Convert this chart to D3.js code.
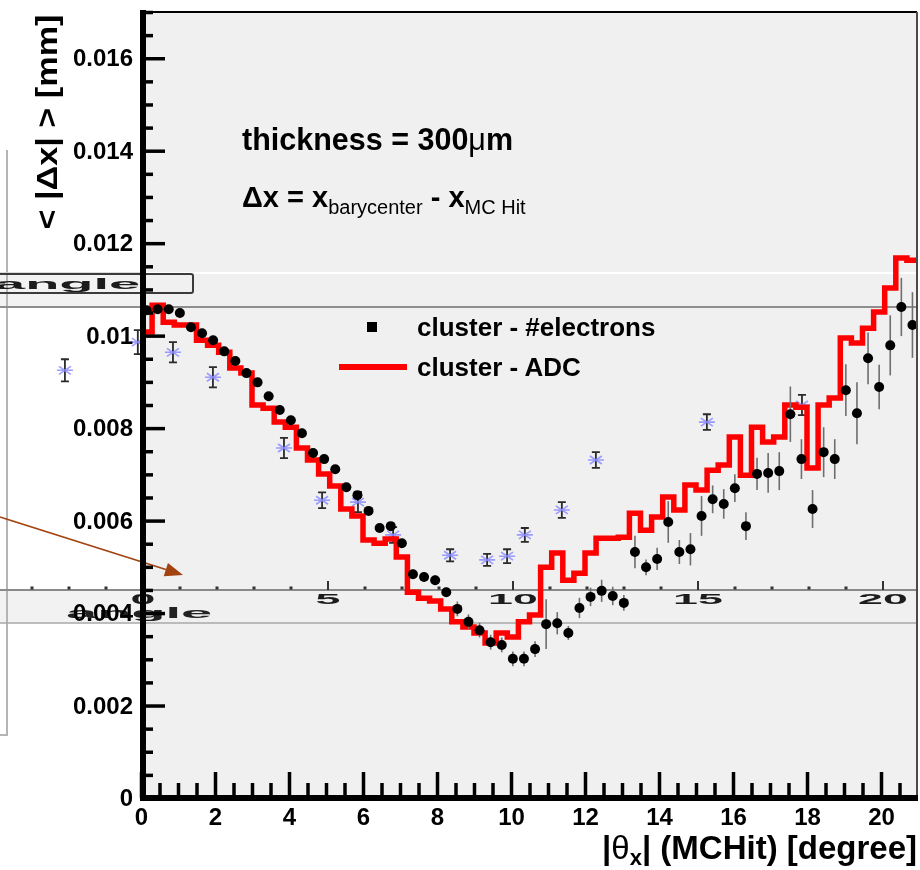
<!DOCTYPE html>
<html>
<head>
<meta charset="utf-8">
<script src="https://cdn.jsdelivr.net/npm/d3@7"></script>
<style>
  body { margin: 0; background: #fff; }
  svg { display: block; font-family: "Liberation Sans", Arial, Helvetica, sans-serif; }
</style>
</head>
<body>
<svg id="chart" width="920" height="870"></svg>
<script>
// ---- data -------------------------------------------------------------
// angular bins of 0.3 degree from 0 to 21 degree
const binWidth = 0.3;

// mean |dx| per bin, cluster position from the number of electrons (points)
const electronsMean = [
  0.01055, 0.01057, 0.01057, 0.01049, 0.01018, 0.01005, 0.00990, 0.00966, 0.00945, 0.00919,
  0.00899, 0.00869, 0.00839, 0.00817, 0.00789, 0.00746, 0.00733, 0.00711, 0.00672, 0.00655,
  0.00621, 0.00584, 0.00588, 0.00551, 0.00484, 0.00478, 0.00471, 0.00445, 0.00409, 0.00381,
  0.00363, 0.00337, 0.00331, 0.00301, 0.00301, 0.00322, 0.00376, 0.00378, 0.00357, 0.00411,
  0.00435, 0.00448, 0.00437, 0.00422, 0.00532, 0.00499, 0.00517, 0.00597, 0.00532, 0.00538,
  0.00610, 0.00646, 0.00636, 0.00670, 0.00588, 0.00701, 0.00703, 0.00707, 0.00830, 0.00733,
  0.00625, 0.00748, 0.00733, 0.00882, 0.00832, 0.00951, 0.00889, 0.00979, 0.01062, 0.01023
];
const electronsErr = [
  0.00003, 0.00003, 0.00003, 0.00003, 0.00003, 0.00003, 0.00003, 0.00003, 0.00003, 0.00003,
  0.00005, 0.00005, 0.00005, 0.00005, 0.00005, 0.00005, 0.00005, 0.00005, 0.00005, 0.00005,
  0.00005, 0.00005, 0.00005, 0.00005, 0.00010, 0.00010, 0.00010, 0.00010, 0.00016, 0.00016,
  0.00016, 0.00016, 0.00016, 0.00016, 0.00016, 0.00017, 0.00054, 0.00024, 0.00015, 0.00022,
  0.00020, 0.00024, 0.00020, 0.00017, 0.00035, 0.00017, 0.00024, 0.00045, 0.00026, 0.00035,
  0.00043, 0.00030, 0.00032, 0.00030, 0.00030, 0.00035, 0.00043, 0.00041, 0.00060, 0.00043,
  0.00041, 0.00054, 0.00043, 0.00056, 0.00067, 0.00056, 0.00048, 0.00065, 0.00063, 0.00071
];

// mean |dx| per bin, cluster position from the ADC signal (red histogram)
const adcMean = [
  0.01008, 0.01066, 0.01029, 0.01023, 0.01023, 0.00990, 0.00979, 0.00964, 0.00930, 0.00919,
  0.00850, 0.00843, 0.00813, 0.00802, 0.00757, 0.00731, 0.00701, 0.00675, 0.00625, 0.00610,
  0.00558, 0.00551, 0.00560, 0.00521, 0.00445, 0.00432, 0.00426, 0.00409, 0.00381, 0.00370,
  0.00357, 0.00335, 0.00357, 0.00348, 0.00381, 0.00396, 0.00499, 0.00530, 0.00471, 0.00486,
  0.00530, 0.00562, 0.00562, 0.00564, 0.00616, 0.00579, 0.00608, 0.00651, 0.00623, 0.00677,
  0.00666, 0.00709, 0.00720, 0.00781, 0.00698, 0.00802, 0.00770, 0.00781, 0.00850, 0.00845,
  0.00714, 0.00850, 0.00865, 0.00995, 0.00984, 0.01016, 0.01051, 0.01103, 0.01168, 0.01163
];

// underlying "angle" panel: its own sample (stars with error bars)
const refAngle = [-2.11, -0.14, 0.81, 1.89, 3.81, 4.84, 5.81, 6.76, 8.30, 9.30, 9.84, 10.32, 11.32, 12.24, 15.24, 17.81];
const refMean  = [0.00925, 0.00986, 0.00964, 0.00910, 0.00757, 0.00644, 0.00640, 0.00569, 0.00525, 0.00515, 0.00523, 0.00569, 0.00623, 0.00731, 0.00813, 0.00850];
const refErr   = [0.00024, 0.00026, 0.00022, 0.00022, 0.00022, 0.00017, 0.00022, 0.00017, 0.00013, 0.00013, 0.00015, 0.00015, 0.00017, 0.00017, 0.00017, 0.00022];
const refAxisTicks  = [0, 5, 10, 15, 20];
const refAxisLabels = ["0", "5", "10", "15", "20"];

// axis ticks
const xMajorTicks = [0, 2, 4, 6, 8, 10, 12, 14, 16, 18, 20];
const xTickLabels = ["0", "2", "4", "6", "8", "10", "12", "14", "16", "18", "20"];
const yMajorTicks = [0, 0.002, 0.004, 0.006, 0.008, 0.010, 0.012, 0.014, 0.016];
const yTickLabels = ["0", "0.002", "0.004", "0.006", "0.008", "0.01", "0.012", "0.014", "0.016"];

// ---- scales -------------------------------------------------------------
const svg = d3.select("#chart");
const x = d3.scaleLinear().domain([0, 21]).range([141, 918]);
const y = d3.scaleLinear().domain([0, 0.017]).range([798, 12]);
const xRef = d3.scaleLinear().domain([0, 20]).range([143, 883]);

const defs = svg.append("defs");
defs.append("filter").attr("id", "soft")
  .attr("x", "-20%").attr("y", "-50%").attr("width", "140%").attr("height", "200%")
  .append("feGaussianBlur").attr("stdDeviation", 0.7);

// plot frame fill
svg.append("rect")
  .attr("x", 143).attr("y", 12).attr("width", 917 - 143).attr("height", 798 - 12)
  .attr("fill", "#f0f0f0");

// ---- underlying "angle" panel --------------------------------------------
const under = svg.append("g");
under.append("rect").attr("x", 0).attr("y", 273).attr("width", 143).attr("height", 34).attr("fill", "#f2f2f2");
under.append("rect").attr("x", 0).attr("y", 590).attr("width", 143).attr("height", 33).attr("fill", "#f2f2f2");

// side panel edge
under.append("path").attr("d", "M7,150V735H0").attr("fill", "none").attr("stroke", "#b4b4b4").attr("stroke-width", 2);

// horizontal strips
under.append("line").attr("x1", 0).attr("x2", 143).attr("y1", 273).attr("y2", 273).attr("stroke", "#cfcfcf").attr("stroke-width", 1.5);
under.append("line").attr("x1", 143).attr("x2", 917).attr("y1", 273).attr("y2", 273).attr("stroke", "#ffffff").attr("stroke-width", 2);
under.append("line").attr("x1", 0).attr("x2", 917).attr("y1", 307).attr("y2", 307).attr("stroke", "#8e8e8e").attr("stroke-width", 2);
under.append("line").attr("x1", 0).attr("x2", 917).attr("y1", 590).attr("y2", 590).attr("stroke", "#8a8a8a").attr("stroke-width", 2);
under.append("line").attr("x1", 0).attr("x2", 917).attr("y1", 623).attr("y2", 623).attr("stroke", "#a8a8a8").attr("stroke-width", 1.5);

// title box of the underlying panel
const blurred = under.append("g").attr("filter", "url(#soft)");
blurred.append("rect").attr("x", -10).attr("y", 274).attr("width", 203).attr("height", 19)
  .attr("rx", 2).attr("fill", "none").attr("stroke", "#3a3a3a").attr("stroke-width", 2);
blurred.append("text").attr("transform", "translate(-6,289) scale(4,1)")
  .attr("font-size", 14).attr("font-weight", "bold").attr("fill", "#1a1a1a").text("angle");

// its horizontal axis
blurred.selectAll(".refMinor").data(d3.range(-3, 21).filter(v => v % 5 !== 0)).join("rect")
  .attr("x", d => xRef(d) - 1.5).attr("y", 586.5).attr("width", 3).attr("height", 3).attr("fill", "#333");
blurred.selectAll(".refMajor").data(refAxisTicks).join("line")
  .attr("x1", d => xRef(d)).attr("x2", d => xRef(d)).attr("y1", 581).attr("y2", 590)
  .attr("stroke", "#333").attr("stroke-width", 2);
blurred.selectAll(".refLabel").data(refAxisTicks).join("text")
  .attr("transform", (d, i) => `translate(${xRef(d)},604) scale(3.2,1)`)
  .attr("text-anchor", "middle").attr("font-size", 14).attr("font-weight", "bold").attr("fill", "#1e1e1e")
  .text((d, i) => refAxisLabels[i]);
blurred.append("text").attr("transform", "translate(66,618) scale(4,1)")
  .attr("font-size", 14).attr("font-weight", "bold").attr("fill", "#222").text("angle");

// its sample: error bars and star markers
const refG = blurred.append("g");
refMean.forEach((m, i) => {
  const cx = xRef(refAngle[i]);
  const y0 = y(m - refErr[i]), y1 = y(m + refErr[i]);
  refG.append("path")
    .attr("d", `M${cx},${y0}V${y1}M${cx - 4},${y0}H${cx + 4}M${cx - 4},${y1}H${cx + 4}`)
    .attr("stroke", "#2a2a2a").attr("stroke-width", 1.8).attr("fill", "none");
  refG.append("path")
    .attr("d", `M${cx - 8},${y(m)}H${cx + 8}M${cx - 6},${y(m) - 4}L${cx + 6},${y(m) + 4}M${cx - 6},${y(m) + 4}L${cx + 6},${y(m) - 4}`)
    .attr("stroke", "#8c8cff").attr("stroke-width", 1.6).attr("opacity", 0.85).attr("fill", "none");
});

// annotation arrow
const arrowFrom = [0, 517], arrowTip = [183, 575];
const ang = Math.atan2(arrowTip[1] - arrowFrom[1], arrowTip[0] - arrowFrom[0]);
const headLen = 18, headHalf = 7;
const bx = arrowTip[0] - headLen * Math.cos(ang), by = arrowTip[1] - headLen * Math.sin(ang);
under.append("line").attr("x1", arrowFrom[0]).attr("y1", arrowFrom[1]).attr("x2", bx).attr("y2", by)
  .attr("stroke", "#a2420e").attr("stroke-width", 1.6);
under.append("path")
  .attr("d", `M${arrowTip[0]},${arrowTip[1]}L${bx + headHalf * Math.sin(ang)},${by - headHalf * Math.cos(ang)}L${bx - headHalf * Math.sin(ang)},${by + headHalf * Math.cos(ang)}Z`)
  .attr("fill", "#a2420e");

// ---- main data -----------------------------------------------------------
// ADC histogram drawn as a step line over the bin edges
const adcSteps = adcMean.map((v, i) => [i * binWidth, v]);
adcSteps.push([adcMean.length * binWidth, adcMean[adcMean.length - 1]]);
svg.append("path")
  .datum(adcSteps)
  .attr("d", d3.line().x(d => x(d[0])).y(d => y(d[1])).curve(d3.curveStepAfter))
  .attr("fill", "none").attr("stroke", "#ff0000").attr("stroke-width", 5.5);

// number-of-electrons points
const pts = electronsMean.map((v, i) => ({ a: (i + 0.5) * binWidth, v, e: electronsErr[i] }));
svg.append("g").selectAll("line").data(pts).join("line")
  .attr("x1", d => x(d.a)).attr("x2", d => x(d.a))
  .attr("y1", d => y(d.v - d.e)).attr("y2", d => y(d.v + d.e))
  .attr("stroke", "#6e6e6e").attr("stroke-width", 1.6);
svg.append("g").selectAll("circle").data(pts).join("circle")
  .attr("cx", d => x(d.a)).attr("cy", d => y(d.v)).attr("r", 5).attr("fill", "#000");

// ---- axes ---------------------------------------------------------------
svg.append("line").attr("x1", 143).attr("x2", 917).attr("y1", 12).attr("y2", 12).attr("stroke", "#000").attr("stroke-width", 2);
svg.append("line").attr("x1", 917).attr("x2", 917).attr("y1", 12).attr("y2", 798).attr("stroke", "#4a4a4a").attr("stroke-width", 2);

const tickFont = g => g.selectAll("text")
  .attr("font-size", 24).attr("font-weight", "bold").attr("fill", "#000")
  .attr("font-family", "'Liberation Sans', Arial, sans-serif");

const yMinor = d3.range(0, 0.01701, 0.0005).filter(v => Math.abs(v / 0.002 - Math.round(v / 0.002)) > 1e-6);
svg.append("g").attr("transform", "translate(143,0)")
  .call(d3.axisLeft(y).tickValues(yMinor).tickSizeInner(-10).tickSizeOuter(0).tickFormat(""))
  .call(g => g.select(".domain").remove())
  .call(g => g.selectAll("line").attr("stroke-width", 3.5));
svg.append("g").attr("transform", "translate(143,0)")
  .call(d3.axisLeft(y).tickValues(yMajorTicks).tickSizeInner(-22).tickSizeOuter(0).tickPadding(10)
    .tickFormat((d, i) => yTickLabels[i]))
  .call(g => g.select(".domain").remove())
  .call(g => g.selectAll("line").attr("stroke-width", 3.5))
  .call(tickFont);

const xMinor = d3.range(0.5, 20.6, 0.5).filter(v => v % 2 !== 0);
svg.append("g").attr("transform", "translate(0,798)")
  .call(d3.axisBottom(x).tickValues(xMinor).tickSizeInner(-15).tickSizeOuter(0).tickFormat(""))
  .call(g => g.select(".domain").remove())
  .call(g => g.selectAll("line").attr("stroke-width", 3.5));
svg.append("g").attr("transform", "translate(0,798)")
  .call(d3.axisBottom(x).tickValues(xMajorTicks).tickSizeInner(-26).tickSizeOuter(0).tickPadding(10)
    .tickFormat((d, i) => xTickLabels[i]))
  .call(g => g.select(".domain").remove())
  .call(g => g.selectAll("line").attr("stroke-width", 3.5))
  .call(tickFont);

svg.append("line").attr("x1", 143).attr("x2", 143).attr("y1", 10).attr("y2", 801).attr("stroke", "#000").attr("stroke-width", 6);
svg.append("line").attr("x1", 140).attr("x2", 918).attr("y1", 798).attr("y2", 798).attr("stroke", "#000").attr("stroke-width", 6);

// axis titles
svg.append("text")
  .attr("transform", "translate(57,122) rotate(-90)")
  .attr("text-anchor", "middle").attr("font-size", 30).attr("font-weight", "bold")
  .attr("textLength", 215).attr("lengthAdjust", "spacingAndGlyphs")
  .text("< |Δx| > [mm]");

const xt = svg.append("text").attr("x", 917).attr("y", 859)
  .attr("text-anchor", "end").attr("font-size", 33).attr("font-weight", "bold");
xt.append("tspan").text("|");
xt.append("tspan").attr("font-weight", "normal").text("θ");
xt.append("tspan").attr("font-size", 22).attr("dy", 6).text("x");
xt.append("tspan").attr("dy", -6).text("| (MCHit) [degree]");

// ---- annotations ----------------------------------------------------------
const t1 = svg.append("text").attr("x", 242).attr("y", 150).attr("font-size", 30.5).attr("font-weight", "bold");
t1.append("tspan").text("thickness = 300");
t1.append("tspan").attr("font-weight", "normal").text("μ");
t1.append("tspan").text("m");

const t2 = svg.append("text").attr("x", 242).attr("y", 207).attr("font-size", 29).attr("font-weight", "bold");
t2.append("tspan").text("Δx = x");
t2.append("tspan").attr("font-size", 20).attr("font-weight", "normal").attr("dy", 7).text("barycenter");
t2.append("tspan").attr("dy", -7).text(" - x");
t2.append("tspan").attr("font-size", 20).attr("font-weight", "normal").attr("dy", 7).text("MC Hit");

// legend
const lg = svg.append("g");
lg.append("rect").attr("x", 367).attr("y", 322).attr("width", 10).attr("height", 10).attr("fill", "#000");
lg.append("line").attr("x1", 339).attr("x2", 407).attr("y1", 367).attr("y2", 367).attr("stroke", "#ff0000").attr("stroke-width", 6);
lg.append("text").attr("x", 417).attr("y", 336).attr("font-size", 26).attr("font-weight", "bold").text("cluster - #electrons");
lg.append("text").attr("x", 417).attr("y", 376).attr("font-size", 26).attr("font-weight", "bold").text("cluster - ADC");
</script>
</body>
</html>
